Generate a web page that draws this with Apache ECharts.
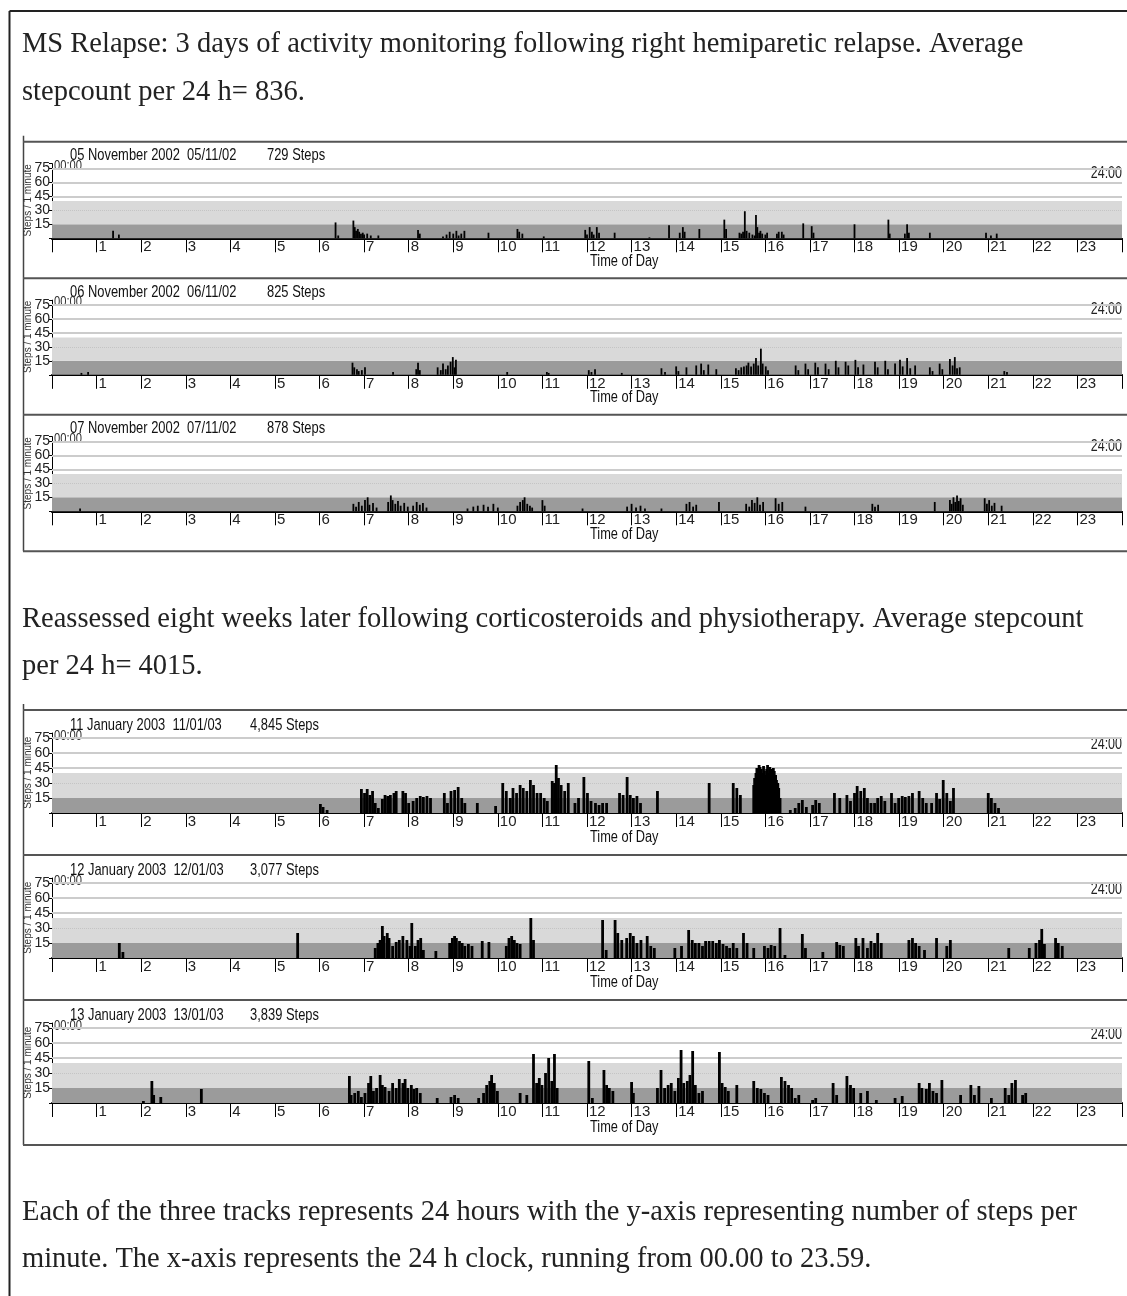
<!DOCTYPE html>
<html><head><meta charset="utf-8">
<script src="https://cdn.jsdelivr.net/npm/echarts@6/dist/echarts.min.js"></script>
<style>html,body{margin:0;padding:0;background:#fff}#c{width:1127px;height:1296px}</style>
</head><body><div id="c"></div>
<script>
const paragraph1 = ['MS Relapse: 3 days of activity monitoring following right hemiparetic relapse. Average', 'stepcount per 24 h= 836.'];
const paragraph2 = ['Reassessed eight weeks later following corticosteroids and physiotherapy. Average stepcount', 'per 24 h= 4015.'];
const paragraph3 = ['Each of the three tracks represents 24 hours with the y-axis representing number of steps per', 'minute. The x-axis represents the 24 h clock, running from 00.00 to 23.59.'];

const panelDates = ['05 November 2002', '06 November 2002', '07 November 2002', '11 January 2003', '12 January 2003', '13 January 2003'];
const panelCodes = ['05/11/02', '06/11/02', '07/11/02', '11/01/03', '12/01/03', '13/01/03'];
const panelSteps = ['729 Steps', '825 Steps', '878 Steps', '4,845 Steps', '3,077 Steps', '3,839 Steps'];
const hourTickLabels = ['1','2','3','4','5','6','7','8','9','10','11','12','13','14','15','16','17','18','19','20','21','22','23'];
const yTickLabels = ['15','30','45','60','75'];
const startLabel = '00:00';
const endLabel = '24:00';
const xName = 'Time of Day';
const yName = 'Steps / 1 minute';

// [hour of day, steps per minute]
const day1 = [[1.37,8],[1.50,4],[6.36,17],[6.42,3],[6.76,19],[6.79,12],[6.82,8],[6.86,10],[6.89,7],[6.93,5],[6.97,6],[7.0,4],[7.07,5],[7.15,3],[7.32,3],[8.21,9],[8.25,5],[8.77,2],[8.85,4],[8.92,7],[9.0,5],[9.07,8],[9.12,3],[9.18,5],[9.25,8],[9.79,6],[10.44,10],[10.48,7],[10.55,5],[11.03,2],[11.96,9],[12.0,4],[12.06,12],[12.11,7],[12.15,4],[12.22,12],[12.27,6],[12.62,6],[13.4,1],[13.84,14],[14.08,6],[14.15,12],[14.19,7],[14.52,10],[15.08,20],[15.12,10],[15.42,6],[15.46,5],[15.5,7],[15.54,29],[15.58,8],[15.64,6],[15.71,4],[15.76,3],[15.79,25],[15.82,12],[15.86,6],[15.89,8],[15.93,5],[16.0,4],[16.04,6],[16.26,5],[16.3,7],[16.37,7],[16.41,4],[16.85,16],[17.04,13],[17.08,6],[18.0,15],[18.76,20],[18.79,5],[19.13,5],[19.18,15],[19.22,6],[19.69,6],[20.95,6],[21.06,3],[21.19,5]];
const day2 = [[0.66,2],[0.81,3],[6.74,13],[6.78,8],[6.84,6],[6.88,4],[6.95,5],[7.02,8],[7.65,3],[8.17,6],[8.21,13],[8.25,5],[8.65,8],[8.72,5],[8.77,12],[8.83,6],[8.88,10],[8.94,14],[8.99,19],[9.03,8],[9.06,16],[10.21,3],[11.1,3],[11.14,2],[12.04,5],[12.1,3],[12.18,6],[12.78,2],[13.67,7],[13.75,3],[14.0,9],[14.05,4],[14.23,8],[14.45,10],[14.56,12],[14.62,5],[14.72,11],[14.9,6],[15.34,7],[15.4,5],[15.46,8],[15.52,9],[15.58,10],[15.62,13],[15.68,9],[15.74,12],[15.79,18],[15.84,10],[15.9,28],[15.94,12],[16.01,9],[16.06,5],[16.68,10],[16.74,5],[16.9,12],[16.96,6],[17.12,13],[17.18,8],[17.35,12],[17.42,6],[17.58,15],[17.64,8],[17.8,14],[17.86,10],[18.02,16],[18.08,8],[18.2,11],[18.46,14],[18.52,8],[18.69,15],[18.75,6],[18.91,12],[19.02,16],[19.08,9],[19.18,18],[19.25,7],[19.36,10],[19.69,8],[19.75,4],[19.91,12],[19.97,6],[20.14,17],[20.2,10],[20.25,19],[20.3,7],[20.36,8],[21.36,4],[21.42,3]];
const day3 = [[0.63,3],[6.76,8],[6.82,5],[6.88,10],[6.95,6],[7.02,12],[7.08,15],[7.12,7],[7.2,9],[7.28,4],[7.54,10],[7.6,17],[7.64,12],[7.7,8],[7.76,11],[7.82,6],[7.9,9],[7.98,5],[8.1,6],[8.18,10],[8.25,7],[8.32,9],[8.4,4],[9.32,3],[9.45,5],[9.55,6],[9.68,7],[9.78,5],[9.9,8],[10.0,4],[10.44,6],[10.5,10],[10.56,12],[10.6,15],[10.66,8],[10.72,6],[10.77,4],[11.0,12],[11.05,6],[11.9,3],[12.9,5],[13.0,8],[13.1,4],[13.2,6],[13.3,3],[13.67,3],[14.23,8],[14.3,10],[14.38,5],[14.45,7],[14.96,10],[15.57,8],[15.64,5],[15.7,12],[15.76,9],[15.82,15],[15.88,7],[15.95,10],[16.23,14],[16.3,8],[16.38,10],[16.9,5],[18.4,8],[18.46,5],[18.53,7],[19.8,10],[20.14,12],[20.18,8],[20.22,15],[20.26,10],[20.3,17],[20.34,11],[20.38,14],[20.43,7],[20.92,14],[20.97,8],[21.02,12],[21.08,6],[21.14,9],[21.3,6]];
const day4 = [[6.02,9],[6.08,6],[6.17,3],[6.94,24],[7.01,20],[7.07,24],[7.13,18],[7.19,22],[7.25,10],[7.32,5],[7.41,14],[7.47,18],[7.53,17],[7.59,18],[7.67,20],[7.72,22],[7.87,22],[7.93,20],[8.0,10],[8.1,12],[8.18,15],[8.26,17],[8.33,16],[8.41,17],[8.49,15],[8.8,20],[8.87,10],[8.95,22],[9.03,23],[9.11,26],[9.19,15],[9.26,10],[9.54,10],[9.95,7],[10.11,30],[10.19,22],[10.28,15],[10.34,25],[10.42,20],[10.5,28],[10.57,25],[10.65,22],[10.73,33],[10.8,28],[10.88,20],[10.96,20],[11.04,15],[11.11,12],[11.22,32],[11.27,30],[11.31,48],[11.36,35],[11.42,28],[11.5,22],[11.58,30],[11.73,10],[11.81,15],[11.93,36],[12.01,20],[12.09,12],[12.19,10],[12.27,8],[12.35,10],[12.44,10],[12.73,20],[12.81,18],[12.9,36],[12.97,18],[13.04,15],[13.12,17],[13.2,10],[13.58,22],[14.74,30],[15.28,30],[15.36,25],[15.44,18],[15.74,28],[15.76,35],[15.79,40],[15.81,45],[15.84,42],[15.86,48],[15.88,46],[15.91,44],[15.93,40],[15.96,47],[15.98,42],[16.0,38],[16.03,44],[16.05,48],[16.08,40],[16.1,46],[16.13,44],[16.15,36],[16.18,45],[16.2,42],[16.23,38],[16.25,33],[16.28,30],[16.3,25],[16.33,15],[16.56,3],[16.67,5],[16.75,10],[16.83,13],[16.92,6],[17.06,8],[17.13,13],[17.21,10],[17.55,20],[17.67,15],[17.83,18],[17.91,12],[18.0,20],[18.06,27],[18.14,22],[18.22,25],[18.29,15],[18.37,10],[18.45,10],[18.52,15],[18.6,17],[18.68,12],[18.83,20],[18.91,10],[18.99,15],[19.07,17],[19.14,16],[19.22,17],[19.3,20],[19.45,22],[19.53,15],[19.61,10],[19.73,10],[19.84,20],[19.91,14],[19.99,33],[20.07,20],[20.15,12],[20.22,25],[21.0,20],[21.07,15],[21.15,10],[21.23,5]];
const day5 = [[1.51,15],[1.59,6],[5.51,25],[7.25,10],[7.31,15],[7.36,18],[7.41,32],[7.45,22],[7.52,25],[7.56,20],[7.64,12],[7.72,16],[7.79,18],[7.87,22],[7.96,18],[8.03,12],[8.07,35],[8.15,12],[8.21,18],[8.27,20],[8.33,8],[8.61,7],[8.92,15],[8.98,20],[9.03,22],[9.07,20],[9.14,17],[9.2,15],[9.26,12],[9.34,14],[9.42,12],[9.65,17],[9.8,16],[10.19,12],[10.25,20],[10.31,22],[10.37,18],[10.43,15],[10.5,14],[10.74,40],[10.8,18],[12.35,38],[12.43,8],[12.63,38],[12.69,25],[12.78,18],[12.89,20],[12.97,25],[13.04,22],[13.12,15],[13.21,18],[13.35,22],[13.43,12],[13.51,10],[13.97,10],[14.12,12],[14.28,28],[14.36,18],[14.43,15],[14.51,15],[14.59,12],[14.66,17],[14.74,17],[14.82,17],[14.9,15],[14.97,18],[15.05,14],[15.13,12],[15.2,10],[15.28,15],[15.36,10],[15.51,25],[15.59,15],[15.74,10],[15.98,12],[16.06,10],[16.13,13],[16.21,12],[16.33,30],[16.44,3],[16.83,24],[16.9,10],[17.29,6],[17.6,16],[17.67,13],[17.75,12],[18.03,20],[18.09,12],[18.19,20],[18.29,10],[18.37,17],[18.45,15],[18.52,25],[18.6,15],[19.22,18],[19.3,20],[19.37,15],[19.45,12],[19.57,8],[19.84,20],[20.07,12],[20.15,18],[21.46,10],[21.92,10],[22.07,15],[22.15,18],[22.2,29],[22.26,14],[22.51,20],[22.57,15],[22.66,12]];
const day6 = [[2.05,2],[2.24,22],[2.28,8],[2.44,6],[3.35,14],[6.67,27],[6.71,8],[6.79,10],[6.87,12],[6.94,6],[7.02,10],[7.1,20],[7.15,27],[7.21,12],[7.28,15],[7.36,28],[7.41,18],[7.47,16],[7.56,12],[7.64,20],[7.72,15],[7.79,24],[7.87,20],[7.92,24],[7.98,15],[8.06,18],[8.12,14],[8.18,15],[8.26,10],[8.64,5],[8.95,6],[9.03,8],[9.11,5],[9.57,5],[9.68,10],[9.75,18],[9.82,22],[9.86,28],[9.92,20],[9.99,12],[10.5,10],[10.65,8],[10.8,49],[10.87,20],[10.93,25],[10.99,18],[11.07,30],[11.14,45],[11.21,22],[11.27,49],[11.33,15],[12.04,42],[12.12,5],[12.38,33],[12.44,18],[12.5,15],[12.58,12],[13.0,21],[13.04,10],[13.58,15],[13.66,33],[13.74,15],[13.82,18],[13.89,20],[13.97,12],[14.05,25],[14.11,53],[14.17,20],[14.25,22],[14.31,28],[14.37,52],[14.43,18],[14.51,10],[14.59,12],[14.97,51],[15.03,20],[15.1,16],[15.17,12],[15.36,18],[15.74,22],[15.82,15],[15.9,14],[15.98,10],[16.06,8],[16.36,26],[16.44,22],[16.52,18],[16.59,15],[16.67,5],[16.75,8],[17.06,3],[17.13,5],[17.52,20],[17.6,8],[17.83,27],[17.91,18],[17.98,15],[18.14,10],[18.29,12],[18.49,3],[18.91,5],[19.07,7],[19.45,20],[19.51,15],[19.61,14],[19.68,20],[19.76,12],[19.84,10],[19.96,23],[20.38,8],[20.61,18],[20.69,8],[20.79,17],[21.07,5],[21.38,15],[21.46,8],[21.53,20],[21.61,23],[21.77,8],[21.84,10]];
const days = [day1, day2, day3, day4, day5, day6];

const NARROW = "'Liberation Sans Narrow','Arial Narrow','Liberation Sans',sans-serif";
const SERIF = "'Liberation Serif','Times New Roman',serif";

const groups = [
  {top: 141.7, step: 136.5, base: 96.6, unit: 14/15, vs: 1, stepsX: 267},
  {top: 710, step: 145, base: 103, unit: 1, vs: 1.06, stepsX: 250}
];

const grids = [], xAxes = [], yAxes = [], series = [], els = [];

// outer frame
els.push({type:'line', shape:{x1:9.5, y1:11, x2:1127, y2:11}, style:{stroke:'#222', lineWidth:2}});
els.push({type:'line', shape:{x1:9.5, y1:11, x2:9.5, y2:1296}, style:{stroke:'#222', lineWidth:2}});

function para(lines, y0) {
  lines.forEach((t, k) => {
    els.push({type:'text', x:22, y:y0 + k*47.5, style:{text:t, fontFamily:SERIF, fontSize:28.5, fill:'#222', verticalAlign:'bottom'}});
  });
}
para(paragraph1, 59.5);
para(paragraph2, 634);
para(paragraph3, 1227);

groups.forEach((g) => {
  const gTop = g.top, gBot = g.top + 3*g.step;
  els.push({type:'line', shape:{x1:23.5, y1:gTop-6, x2:23.5, y2:gBot}, style:{stroke:'#444', lineWidth:1.5}});
  els.push({type:'line', shape:{x1:23, y1:gBot, x2:1127, y2:gBot}, style:{stroke:'#555', lineWidth:2}});
});

function narrowText(x, y, text, size, sx, extra) {
  return Object.assign({type:'text', x:x, y:y, scaleX:sx, style:Object.assign({text:text, fontFamily:NARROW, fontSize:size, fill:'#111', verticalAlign:'middle'}, extra || {})});
}

for (let i = 0; i < 6; i++) {
  const g = groups[i < 3 ? 0 : 1];
  const k = i % 3;
  const T = g.top + k*g.step;
  const B = T + g.base;
  const H = 80*g.unit;
  els.push({type:'line', shape:{x1:23, y1:T, x2:1127, y2:T}, style:{stroke:'#555', lineWidth:2}});
  els.push(narrowText(70, T+14*g.vs, panelDates[i]+'  '+panelCodes[i], 17, 0.76));
  els.push(narrowText(g.stepsX, T+14*g.vs, panelSteps[i], 17, 0.76));
  els.push(narrowText(54, B-72.5*g.vs, startLabel, 14, 0.8, {fill:'#333'}));
  els.push(narrowText(1122, B-65*g.vs, endLabel, 16, 0.78, {fill:'#222', align:'right'}));
  els.push(narrowText(590, B+23*g.vs, xName, 16, 0.8));
  els.push({type:'text', x:28, y:B-38*g.vs, rotation:Math.PI/2, style:{text:yName, fontFamily:NARROW, fontSize:10, fill:'#333', align:'center', verticalAlign:'middle'}});

  grids.push({left:52, width:1076, top:B-H, height:H});
  xAxes.push({
    type:'value', gridIndex:i, min:0, max:24, interval:1,
    axisLine:{show:true, onZero:false, lineStyle:{color:'#000', width:2}},
    axisTick:{show:true, length:14, lineStyle:{color:'#000', width:1}},
    axisLabel:{formatter:v => hourTickLabels.includes(String(v)) ? String(v) : '', align:'left', margin:2, padding:[0,0,0,2], fontFamily:NARROW, fontSize:15, lineHeight:14, color:'#222'},
    splitLine:{show:false}
  });
  yAxes.push({
    type:'value', gridIndex:i, min:0, max:80, interval:15,
    axisLine:{show:true, lineStyle:{color:'#000', width:1}},
    axisTick:{show:true, length:3, lineStyle:{color:'#000'}},
    axisLabel:{formatter:v => yTickLabels.includes(String(v)) ? String(v) : '', margin:2, fontFamily:NARROW, fontSize:14, lineHeight:10, color:'#222', padding:[0,0,5,0]},
    splitLine:{show:false}
  });
  series.push({
    type:'bar', xAxisIndex:i, yAxisIndex:i, data:days[i], barWidth: i < 3 ? 1.8 : 2.8,
    itemStyle:{color:'#000'}, z:3, silent:true,
    markArea:{silent:true, z:1, data:[
      [{yAxis:0, itemStyle:{color:'#9b9b9b', opacity:1}}, {yAxis:15}],
      [{yAxis:15, itemStyle:{color:'#d9d9d9', opacity:1}}, {yAxis:40}]
    ]},
    markLine:{silent:true, z:2, symbol:['none','none'], label:{show:false}, data:[
      {yAxis:30, lineStyle:{color:'#c4c4c4', width:1, type:'dotted'}},
      {yAxis:45, lineStyle:{color:'#cccccc', width:2, type:'solid'}},
      {yAxis:60, lineStyle:{color:'#cccccc', width:2, type:'solid'}},
      {yAxis:75, lineStyle:{color:'#cccccc', width:2, type:'solid'}}
    ]}
  });
}

const chart = echarts.init(document.getElementById('c'), null, {renderer:'canvas'});
chart.setOption({
  animation:false,
  backgroundColor:'#fff',
  grid:grids, xAxis:xAxes, yAxis:yAxes, series:series,
  graphic:{elements:els}
});
</script>
</body></html>
